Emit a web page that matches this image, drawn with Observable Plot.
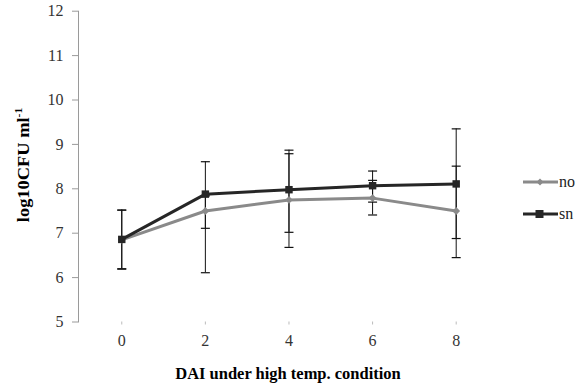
<!DOCTYPE html>
<html>
<head>
<meta charset="utf-8">
<script src="https://cdn.jsdelivr.net/npm/d3@7"></script>
<script src="https://cdn.jsdelivr.net/npm/@observablehq/plot@0.6"></script>
<style>
  body { margin: 0; background: #fff; }
  #wrap { position: relative; width: 580px; height: 385px; font-family: "Liberation Serif", "DejaVu Serif", serif; }
  #wrap svg, #wrap svg text { font-family: "Liberation Serif", "DejaVu Serif", serif !important; }
  #ylab { position: absolute; left: 23px; top: 165px; transform: translate(-50%, -50%) rotate(-90deg) scale(1.15, 1.05); font-family: "Liberation Serif", serif; font-weight: bold; font-size: 16px; white-space: nowrap; color: #000; }
  #ylab sup { font-size: 10px; }
  #xlab { position: absolute; left: 288px; top: 373px; transform: translate(-50%, -50%) scale(1.03, 1.1); font-family: "Liberation Serif", serif; font-weight: bold; font-size: 16px; white-space: nowrap; color: #000; }
  #legend { position: absolute; left: 523px; top: 172px; font-size: 16px; font-family: "Liberation Serif", serif; color: #222; }
  .lrow { display: flex; align-items: center; height: 20px; margin-bottom: 12px; }
  .lrow span { margin-left: 1px; font-family: "Liberation Serif", serif; }
</style>
</head>
<body>
<div id="wrap"></div>
<script>
const days = [0, 2, 4, 6, 8];
const seriesNames = ["no", "sn"];
const noMean = [6.85, 7.50, 7.75, 7.79, 7.50];
const noLow  = [6.19, 6.11, 6.68, 7.41, 6.45];
const noHigh = [7.52, 7.84, 8.79, 8.19, 8.51];
const snMean = [6.86, 7.88, 7.98, 8.07, 8.11];
const snLow  = [6.20, 7.11, 7.02, 7.70, 6.88];
const snHigh = [7.52, 8.61, 8.87, 8.40, 9.35];
const yTicks = [5, 6, 7, 8, 9, 10, 11, 12];
const colors = {no: "#8a8a8a", sn: "#262626"};

const rows = [];
days.forEach((d, i) => {
  rows.push({day: d, series: "no", mean: noMean[i], low: noLow[i], high: noHigh[i]});
  rows.push({day: d, series: "sn", mean: snMean[i], low: snLow[i], high: snHigh[i]});
});
const noRows = rows.filter(r => r.series === "no");
const snRows = rows.filter(r => r.series === "sn");

const capSymbol = {
  draw(context, size) {
    context.moveTo(-4.5, 0);
    context.lineTo(4.5, 0);
  }
};

const plot = Plot.plot({
  width: 580,
  height: 385,
  marginLeft: 78,
  marginRight: 82.5,
  marginTop: 10.7,
  marginBottom: 63.5,
  style: {fontFamily: "'Liberation Serif', serif", fontSize: "16px", color: "#000", background: "#fff"},
  x: {domain: [-1.035, 9], ticks: days},
  y: {domain: [5, 12], ticks: yTicks},
  marks: [
    Plot.frame({anchor: "left", stroke: "#9a9a9a"}),
    Plot.axisY({ticks: yTicks, tickSize: 6, tickPadding: 9, stroke: "#9a9a9a", label: null, tickFormat: d => d, fill: "#333", fontFamily: "Liberation Serif"}),
    Plot.axisX({ticks: days, tickSize: 3, tickPadding: 10, stroke: "#bbbbbb", label: null, tickFormat: d => d, fill: "#333", fontFamily: "Liberation Serif"}),
    Plot.ruleX(rows, {x: "day", y1: "low", y2: "high", stroke: "#111", strokeWidth: 1}),
    Plot.dot(rows, {x: "day", y: "low", symbol: capSymbol, stroke: "#111", strokeWidth: 1.2, fill: "none"}),
    Plot.dot(rows, {x: "day", y: "high", symbol: capSymbol, stroke: "#111", strokeWidth: 1.2, fill: "none"}),
    Plot.line(noRows, {x: "day", y: "mean", stroke: colors.no, strokeWidth: 3}),
    Plot.dot(noRows, {x: "day", y: "mean", symbol: "diamond2", r: 3.5, fill: colors.no, stroke: "none"}),
    Plot.line(snRows, {x: "day", y: "mean", stroke: colors.sn, strokeWidth: 3}),
    Plot.dot(snRows, {x: "day", y: "mean", symbol: "square", r: 4.2, fill: colors.sn, stroke: "none"})
  ]
});

const wrap = document.getElementById("wrap");
wrap.appendChild(plot);

const ylab = document.createElement("div");
ylab.id = "ylab";
ylab.innerHTML = "log10CFU ml<sup>-1</sup>";
wrap.appendChild(ylab);

const xlab = document.createElement("div");
xlab.id = "xlab";
xlab.textContent = "DAI under high temp. condition";
wrap.appendChild(xlab);

const legend = document.createElement("div");
legend.id = "legend";
seriesNames.forEach(name => {
  const row = document.createElement("div");
  row.className = "lrow";
  const marker = name === "no"
    ? `<path d="M17,-3.5 L20.5,0 L17,3.5 L13.5,0 Z" fill="${colors.no}"/>`
    : `<rect x="12.5" y="-4" width="8" height="8" fill="${colors.sn}"/>`;
  row.innerHTML = `<svg width="35" height="10" viewBox="0 -5 35 10"><line x1="0" x2="35" y1="0" y2="0" stroke="${colors[name]}" stroke-width="3"/>${marker}</svg><span>${name}</span>`;
  legend.appendChild(row);
});
wrap.appendChild(legend);
</script>
</body>
</html>
